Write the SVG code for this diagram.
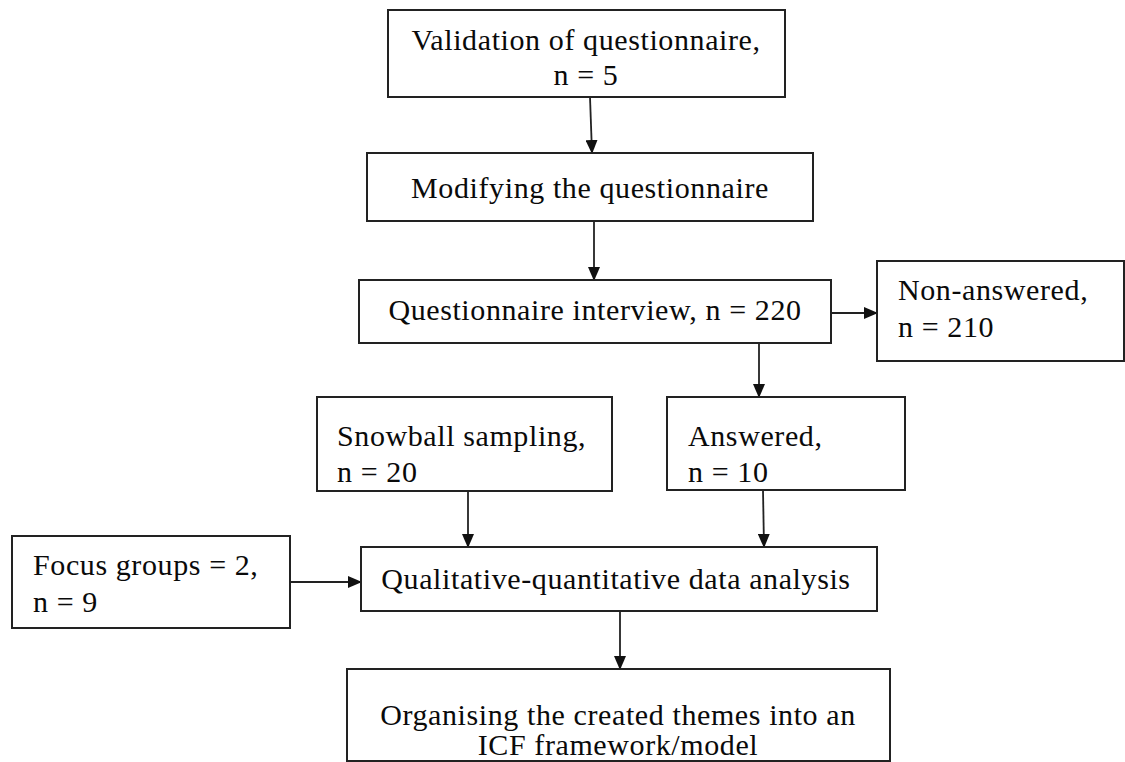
<svg xmlns="http://www.w3.org/2000/svg" width="1125" height="762" viewBox="0 0 1125 762">
<style>
.box{fill:#fff;stroke:#222;stroke-width:2}
.t{font-family:"Liberation Serif","Times New Roman",serif;font-size:30px;letter-spacing:0.6px;fill:#0a0a0a}
.c{text-anchor:middle}
.ln{stroke:#222;stroke-width:1.8;fill:none;marker-end:url(#ah)}
</style>
<defs>
<marker id="ah" markerWidth="14" markerHeight="12" refX="13" refY="6" orient="auto" markerUnits="userSpaceOnUse" viewBox="0 0 14 12">
<path d="M0,0 L14,6 L0,12 Z" fill="#111"/>
</marker>
</defs>
<rect width="1125" height="762" fill="#fff"/>
<g id="connectors">
<line class="ln" x1="590" y1="97" x2="592" y2="153"/>
<line class="ln" x1="594" y1="221" x2="594" y2="280"/>
<line class="ln" x1="831" y1="313" x2="877" y2="313"/>
<line class="ln" x1="759" y1="343" x2="759" y2="397"/>
<line class="ln" x1="468" y1="491" x2="468" y2="547"/>
<line class="ln" x1="763" y1="490" x2="764" y2="547"/>
<line class="ln" x1="290" y1="582" x2="361" y2="582"/>
<line class="ln" x1="620" y1="611" x2="620" y2="669"/>
</g>
<g id="n1"><rect class="box" x="388" y="10" width="397" height="87"/>
<text class="t c" x="586" y="50">Validation of questionnaire,</text>
<text class="t c" x="586" y="85">n = 5</text></g>
<g id="n2"><rect class="box" x="367" y="153" width="446" height="68"/>
<text class="t c" x="590" y="198">Modifying the questionnaire</text></g>
<g id="n3"><rect class="box" x="359" y="280" width="472" height="63"/>
<text class="t c" x="595" y="320">Questionnaire interview, n = 220</text></g>
<g id="n4"><rect class="box" x="877" y="261" width="247" height="100"/>
<text class="t" x="898" y="300">Non-answered,</text>
<text class="t" x="898" y="337">n = 210</text></g>
<g id="n5"><rect class="box" x="317" y="397" width="295" height="94"/>
<text class="t" x="337" y="446">Snowball sampling,</text>
<text class="t" x="337" y="482">n = 20</text></g>
<g id="n6"><rect class="box" x="667" y="397" width="238" height="93"/>
<text class="t" x="688" y="446">Answered,</text>
<text class="t" x="688" y="482">n = 10</text></g>
<g id="n7"><rect class="box" x="12" y="536" width="278" height="92"/>
<text class="t" x="33" y="575">Focus groups = 2,</text>
<text class="t" x="33" y="612">n = 9</text></g>
<g id="n8"><rect class="box" x="361" y="547" width="516" height="64"/>
<text class="t c" x="616" y="589">Qualitative-quantitative data analysis</text></g>
<g id="n9"><rect class="box" x="347" y="669" width="543" height="92"/>
<text class="t c" x="618" y="725">Organising the created themes into an</text>
<text class="t c" x="618" y="755">ICF framework/model</text></g>
</svg>
